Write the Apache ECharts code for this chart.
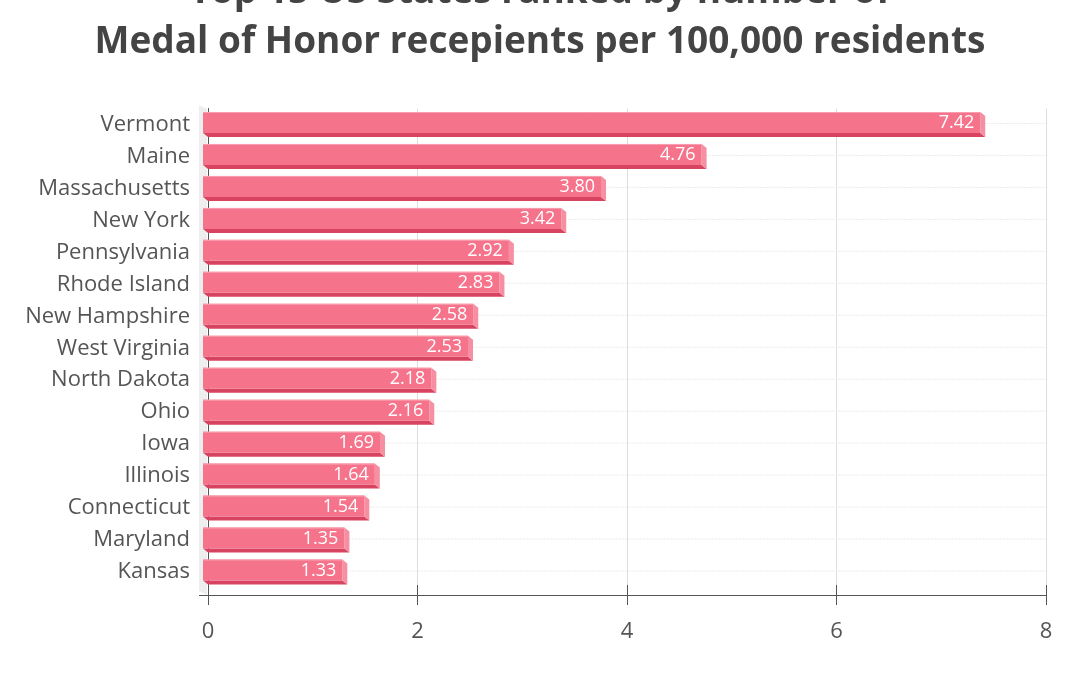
<!DOCTYPE html>
<html>
<head>
<meta charset="utf-8">
<script src="https://cdn.jsdelivr.net/npm/echarts@6/dist/echarts.min.js"></script>
<style>
html,body{margin:0;padding:0;background:#fff;}
#chart{width:1080px;height:675px;}
</style>
</head>
<body>
<div id="chart"></div>
<script>
const states = ["Vermont","Maine","Massachusetts","New York","Pennsylvania","Rhode Island","New Hampshire","West Virginia","North Dakota","Ohio","Iowa","Illinois","Connecticut","Maryland","Kansas"];
const recipientsPer100k = [7.42,4.76,3.80,3.42,2.92,2.83,2.58,2.53,2.18,2.16,1.69,1.64,1.54,1.35,1.33];
const xTicks = [0,2,4,6,8];

const FONT = '"Open Sans", "Noto Sans", sans-serif';
const DX = 5, DY = 4;

const chart = echarts.init(document.getElementById('chart'));

function renderItem(params, api) {
  const v = api.value(0), c = api.value(1);
  const p0 = api.coord([0, c]);
  const p1 = api.coord([v, c]);
  const pEnd = api.coord([xTicks[xTicks.length - 1], c]);
  const yc = p0[1];
  const top = yc - 12.5, fb = yc + 8.5, bb = yc + 12.5;
  const x0 = p0[0], x1 = p1[0];
  return {
    type: 'group',
    children: [
      { type: 'line', shape: { x1: x0, y1: yc - 1, x2: pEnd[0], y2: yc - 1 },
        style: { stroke: '#ececec', lineWidth: 1, lineDash: [2, 1] }, z2: 0 },
      { type: 'polygon', shape: { points: [[x0 - DX, fb], [x1 - DX, fb], [x1, bb], [x0, bb]] },
        style: { fill: '#d8445f' }, z2: 1 },
      { type: 'polygon', shape: { points: [[x1 - DX, top], [x1, top + DY], [x1, bb], [x1 - DX, fb]] },
        style: { fill: '#f68fa1' }, z2: 1 },
      { type: 'rect', shape: { x: x0 - DX, y: top, width: x1 - x0, height: fb - top },
        style: { fill: '#f5738b' }, z2: 2 },
      { type: 'line', shape: { x1: x0 - DX, y1: top + 0.5, x2: x1 - DX, y2: top + 0.5 },
        style: { stroke: '#f8a0b0', lineWidth: 1 }, z2: 3 },
      { type: 'text', x: x1 - DX - 6, y: (top + fb) / 2 + 0.5,
        style: { text: v.toFixed(2), fill: '#ffffff', font: '18px ' + FONT, align: 'right', verticalAlign: 'middle' }, z2: 4 }
    ]
  };
}

const option = {
  backgroundColor: '#ffffff',
  animation: false,
  title: {
    text: 'Top 15 US States ranked by number of\nMedal of Honor recepients per 100,000 residents',
    left: 'center',
    top: -33,
    padding: 0,
    textStyle: { fontFamily: FONT, fontSize: 37, fontWeight: 'bold', color: '#444444', lineHeight: 50 }
  },
  grid: { left: 208, right: 34, top: 108.5, bottom: 87, containLabel: false },
  xAxis: [
    {
      type: 'value', min: 0, max: 8, interval: 2, offset: 7,
      axisLine: { show: true, lineStyle: { color: '#555555', width: 1 } },
      axisTick: { show: true, length: 10, lineStyle: { color: '#555555' } },
      axisLabel: { color: '#555555', fontFamily: FONT, fontSize: 22, margin: 26,
        formatter: v => xTicks.includes(v) ? String(v) : '' },
      splitLine: { show: true, lineStyle: { color: '#dddddd', width: 1 } }
    },
    {
      type: 'value', min: 0, max: 8, interval: 2, offset: 7, position: 'bottom',
      axisLine: { show: false },
      axisTick: { show: true, inside: true, length: 10, lineStyle: { color: '#555555' } },
      axisLabel: { show: false },
      splitLine: { show: false }
    }
  ],
  yAxis: {
    type: 'category', data: states, inverse: true,
    axisLine: { show: true, lineStyle: { color: '#555555' } },
    axisTick: { show: false },
    axisLabel: { color: '#555555', fontFamily: FONT, fontSize: 22, margin: 18 },
    splitLine: { show: false }
  },
  graphic: [
    { type: 'polygon', shape: { points: [[199, 105], [207, 109], [207, 595], [199, 591]] },
      style: { fill: '#eeeeee' }, z: 0 },
    { type: 'line', shape: { x1: 199, y1: 595.5, x2: 208, y2: 595.5 },
      style: { stroke: '#555555', lineWidth: 1 }, z: 0 }
  ],
  series: [{
    type: 'custom',
    renderItem: renderItem,
    encode: { x: 0, y: 1 },
    data: recipientsPer100k.map((v, i) => [v, i]),
    z: 5
  }]
};
chart.setOption(option);
</script>
</body>
</html>
